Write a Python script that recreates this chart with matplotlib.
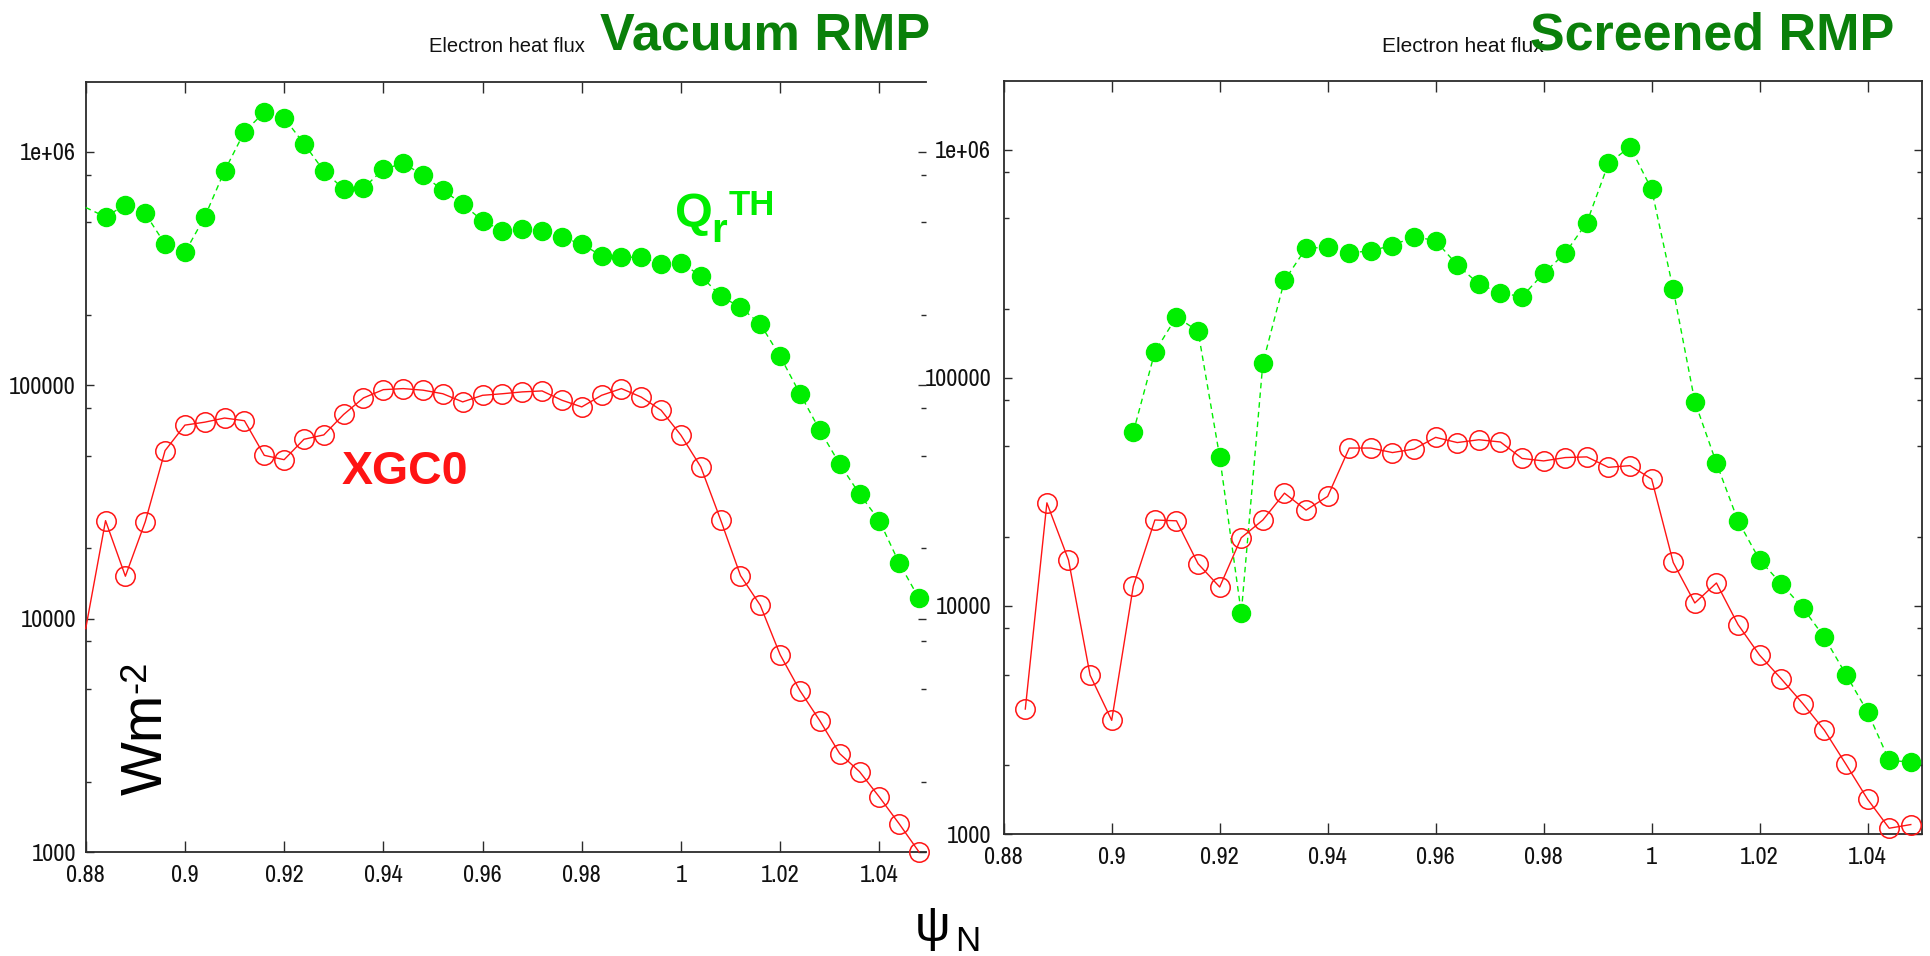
import matplotlib
matplotlib.use('Agg')
import matplotlib.pyplot as plt
from matplotlib import font_manager
from matplotlib.ticker import FixedLocator, FixedFormatter, NullFormatter
import numpy as np

# psi_N grid of the flux-surface average (step 0.004)
psi = [0.880, 0.884, 0.888, 0.892, 0.896, 0.900, 0.904, 0.908, 0.912, 0.916,
       0.920, 0.924, 0.928, 0.932, 0.936, 0.940, 0.944, 0.948, 0.952, 0.956,
       0.960, 0.964, 0.968, 0.972, 0.976, 0.980, 0.984, 0.988, 0.992, 0.996,
       1.000, 1.004, 1.008, 1.012, 1.016, 1.020, 1.024, 1.028, 1.032, 1.036,
       1.040, 1.044, 1.048]

# vacuum RMP: theory estimate and XGC0 electron heat flux (W m^-2), psi[0:]
vac_th = [5.78e5, 5.27e5, 5.94e5, 5.45e5, 4.03e5, 3.71e5, 5.27e5, 8.3e5, 1.22e6, 1.48e6,
          1.40e6, 1.085e6, 8.3e5, 6.93e5, 7.0e5, 8.43e5, 8.94e5, 7.97e5, 6.85e5, 5.98e5,
          5.07e5, 4.6e5, 4.67e5, 4.6e5, 4.31e5, 4.03e5, 3.59e5, 3.54e5, 3.54e5, 3.31e5,
          3.34e5, 2.95e5, 2.41e5, 2.16e5, 1.83e5, 1.33e5, 9.2e4, 6.42e4, 4.6e4, 3.42e4,
          2.63e4, 1.73e4, 1.22e4]
vac_xgc = [9.06e3, 2.63e4, 1.52e4, 2.6e4, 5.25e4, 6.75e4, 6.95e4, 7.24e4, 7.05e4, 5.01e4,
           4.8e4, 5.87e4, 6.13e4, 7.5e4, 8.83e4, 9.58e4, 9.68e4, 9.53e4, 9.2e4, 8.49e4,
           9.06e4, 9.2e4, 9.37e4, 9.46e4, 8.63e4, 8.08e4, 9.06e4, 9.68e4, 8.9e4, 7.82e4,
           6.11e4, 4.47e4, 2.65e4, 1.53e4, 1.14e4, 7.0e3, 4.91e3, 3.65e3, 2.64e3, 2.21e3,
           1.72e3, 1.32e3, 1.0e3]

# screened RMP: theory from psi[6:], XGC0 from psi[1:]
scr_th = [5.77e4, 1.30e5, 1.85e5, 1.6e5, 4.51e4, 9.3e3, 1.16e5, 2.67e5, 3.7e5, 3.73e5,
          3.52e5, 3.61e5, 3.8e5, 4.16e5, 3.99e5, 3.12e5, 2.58e5, 2.35e5, 2.27e5, 2.87e5,
          3.52e5, 4.79e5, 8.7e5, 1.03e6, 6.7e5, 2.44e5, 7.86e4, 4.23e4, 2.36e4, 1.59e4,
          1.25e4, 9.8e3, 7.28e3, 5.0e3, 3.43e3, 2.1e3, 2.07e3]
scr_xgc = [3.53e3, 2.83e4, 1.59e4, 4.97e3, 3.15e3, 1.22e4, 2.38e4, 2.36e4, 1.53e4, 1.21e4,
           1.99e4, 2.38e4, 3.12e4, 2.63e4, 3.02e4, 4.92e4, 4.92e4, 4.7e4, 4.87e4, 5.48e4,
           5.2e4, 5.35e4, 5.23e4, 4.43e4, 4.32e4, 4.47e4, 4.5e4, 4.05e4, 4.12e4, 3.6e4,
           1.55e4, 1.03e4, 1.26e4, 8.28e3, 6.08e3, 4.79e3, 3.73e3, 2.85e3, 2.02e3, 1.42e3,
           1.06e3, 1.1e3]

xticks = [0.88, 0.9, 0.92, 0.94, 0.96, 0.98, 1.0, 1.02, 1.04]
xticklabels = ['0.88', '0.9', '0.92', '0.94', '0.96', '0.98', '1', '1.02', '1.04']
yticks = [1e3, 1e4, 1e5, 1e6]
yticklabels = ['1000', '10000', '100000', '1e+06']
yminor = [m * 10.0**e for e in range(3, 7) for m in (2, 5, 8) if m * 10.0**e < 2e6]

# gnuplot-style narrow tick labels if a condensed face is around
narrow, tick_size = 'Liberation Sans', 15
for f in font_manager.fontManager.ttflist:
    if ('Narrow' in f.name or 'Condensed' in f.name) and 'Mono' not in f.name:
        narrow, tick_size = f.name, 17.5
        break

plt.rcParams['font.family'] = 'Liberation Sans'

W, H = 1930, 956
fig = plt.figure(figsize=(W / 100, H / 100), dpi=100)


def fx(x):
    return x / W


def fy(y):
    return 1 - y / H


TH_GREEN = '#00ee00'
XGC_RED = '#ff1414'
DARK_GREEN = '#0a800a'
AXC = '#2b2b2b'


def setup(ax, xmax, ypad, show_right_spine):
    ax.set_yscale('log')
    ax.set_xlim(0.88, xmax)
    ax.set_ylim(1000, 2e6)
    ax.xaxis.set_major_locator(FixedLocator(xticks))
    ax.xaxis.set_major_formatter(FixedFormatter(xticklabels))
    ax.yaxis.set_major_locator(FixedLocator(yticks))
    ax.yaxis.set_major_formatter(FixedFormatter(yticklabels))
    ax.yaxis.set_minor_locator(FixedLocator(yminor))
    ax.yaxis.set_minor_formatter(NullFormatter())
    ax.tick_params(which='both', direction='in', top=True, right=True, color=AXC, width=1.0)
    ax.tick_params(axis='x', which='major', length=8, pad=9.5)
    ax.tick_params(axis='y', which='major', length=6, pad=ypad)
    ax.tick_params(axis='y', which='minor', length=3.4)
    for lab in ax.get_xticklabels() + ax.get_yticklabels():
        lab.set_fontfamily(narrow)
        lab.set_fontsize(tick_size)
        lab.set_color('#111111')
    for s in ax.spines.values():
        s.set_color(AXC)
        s.set_linewidth(1.3)
    if not show_right_spine:
        ax.spines['right'].set_visible(False)


def draw(ax, x_th, th, x_xgc, xgc, skip_th, skip_xgc):
    ax.plot(x_th, th, color=TH_GREEN, lw=1.0, ls=(0, (4, 3)), marker='o', ms=13,
            mfc=TH_GREEN, mec=TH_GREEN, markevery=list(range(skip_th, len(th))),
            clip_on=False, zorder=3)
    ax.plot(x_xgc, xgc, color=XGC_RED, lw=1.0, marker='o', ms=14, mfc='none',
            mec=XGC_RED, mew=1.1, markevery=list(range(skip_xgc, len(xgc))),
            clip_on=False, zorder=4)


# left: vacuum RMP
ax1 = fig.add_axes([fx(85.7), fy(852), fx(926 - 85.7), (852 - 81.7) / H])
setup(ax1, 1.0494, 7, False)
draw(ax1, psi, vac_th, psi, vac_xgc, 1, 1)

# right: screened RMP
ax2 = fig.add_axes([fx(1003.7), fy(834), fx(1921.6 - 1003.7), (834 - 81) / H])
setup(ax2, 1.05, 9, True)
draw(ax2, psi[6:], scr_th, psi[1:], scr_xgc, 0, 0)

# panel headings
fig.text(fx(507), fy(52), 'Electron heat flux', fontsize=14.5, ha='center', va='baseline',
         color='#111111')
fig.text(fx(1463), fy(52), 'Electron heat flux', fontsize=15, ha='center', va='baseline',
         color='#111111')
fig.text(fx(600), fy(50), 'Vacuum RMP', fontsize=37.5, fontweight='bold', color=DARK_GREEN,
         ha='left', va='baseline')
fig.text(fx(1530), fy(50), 'Screened RMP', fontsize=37.5, fontweight='bold', color=DARK_GREEN,
         ha='left', va='baseline')

# curve labels
fig.text(fx(675), fy(227), 'Q', fontsize=35, fontweight='bold', color=TH_GREEN, va='baseline')
fig.text(fx(711), fy(242), 'r', fontsize=29, fontweight='bold', color=TH_GREEN, va='baseline')
fig.text(fx(729), fy(215), 'TH', fontsize=25, fontweight='bold', color=TH_GREEN, va='baseline')
fig.text(fx(342), fy(483.5), 'XGC0', fontsize=33.5, fontweight='bold', color=XGC_RED,
         va='baseline')

# axis labels: W m^-2 written sideways, psi_N under the figure
fig.text(fx(174), fy(795), 'Wm', fontsize=41, rotation=90, ha='right', va='bottom',
         color='black')
fig.text(fx(153), fy(693), '-2', fontsize=26, rotation=90, ha='right', va='bottom',
         color='black')
fig.text(fx(915), fy(941), 'ψ', fontsize=36, ha='left', va='baseline', color='black')
fig.text(fx(955), fy(951), 'N', fontsize=25, ha='left', va='baseline', color='black')

fig.savefig('out.png', dpi=100)
